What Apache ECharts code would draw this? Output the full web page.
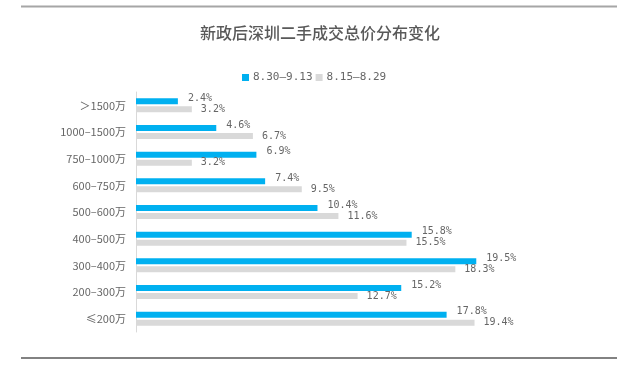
<!DOCTYPE html>
<html>
<head>
<meta charset="utf-8">
<script src="https://cdn.jsdelivr.net/npm/echarts@6/dist/echarts.min.js"></script>
<style>html,body{margin:0;padding:0;background:#fff;}#c{width:640px;height:365px;}</style>
</head>
<body>
<div id="c"></div>
<script>
const titleText = '新政后深圳二手成交总价分布变化';
const categories = ['＞1500万', '1000–1500万', '750–1000万', '600–750万', '500–600万', '400–500万', '300–400万', '200–300万', '≤200万'];
const seriesNames = ['8.30–9.13', '8.15–8.29'];
const recentValues = [2.4, 4.6, 6.9, 7.4, 10.4, 15.8, 19.5, 15.2, 17.8];
const earlierValues = [3.2, 6.7, 3.2, 9.5, 11.6, 15.5, 18.3, 12.7, 19.4];

const chart = echarts.init(document.getElementById('c'), null, {renderer: 'canvas'});
const labelFont = {fontFamily: 'DejaVu Sans Mono', fontSize: 10, color: '#666666'};
chart.setOption({
  animation: false,
  backgroundColor: '#fff',
  title: {
    text: titleText,
    left: 'center',
    top: 20,
    textStyle: {fontFamily: 'Noto Sans CJK SC', fontSize: 16, fontWeight: 500, color: '#595959'}
  },
  legend: {
    top: 67,
    left: 237,
    itemWidth: 7,
    itemHeight: 7,
    itemGap: 3,
    icon: 'rect',
    textStyle: {fontFamily: 'DejaVu Sans Mono', fontSize: 11, color: '#666666', padding: [0, 0, 0, -1]},
    data: seriesNames
  },
  grid: {left: 136, right: 155, top: 92, bottom: 33, containLabel: false},
  xAxis: {
    type: 'value', min: 0, max: 20, show: false
  },
  yAxis: {
    type: 'category',
    data: categories,
    inverse: true,
    axisLine: {lineStyle: {color: '#d9d9d9'}},
    axisTick: {show: false},
    axisLabel: {fontFamily: 'Noto Sans CJK SC', fontSize: 11, color: '#666666', margin: 10}
  },
  graphic: [
    {type: 'line', shape: {x1: 21, y1: 6.5, x2: 617, y2: 6.5}, style: {stroke: '#a6a6a6', lineWidth: 2}},
    {type: 'line', shape: {x1: 21, y1: 358, x2: 617, y2: 358}, style: {stroke: '#595959', lineWidth: 1.5}}
  ],
  series: [
    {
      name: seriesNames[0], type: 'bar', data: recentValues,
      barWidth: 6, barGap: '33%',
      itemStyle: {color: '#00B0F0'},
      label: Object.assign({show: true, position: 'right', distance: 10, offset: [0, -3], formatter: p => p.value.toFixed(1) + '%'}, labelFont)
    },
    {
      name: seriesNames[1], type: 'bar', data: earlierValues,
      barWidth: 6, barGap: '33%',
      itemStyle: {color: '#D9D9D9'},
      label: Object.assign({show: true, position: 'right', distance: 9, offset: [0, 0], formatter: p => p.value.toFixed(1) + '%'}, labelFont)
    }
  ]
});
</script>
</body>
</html>
